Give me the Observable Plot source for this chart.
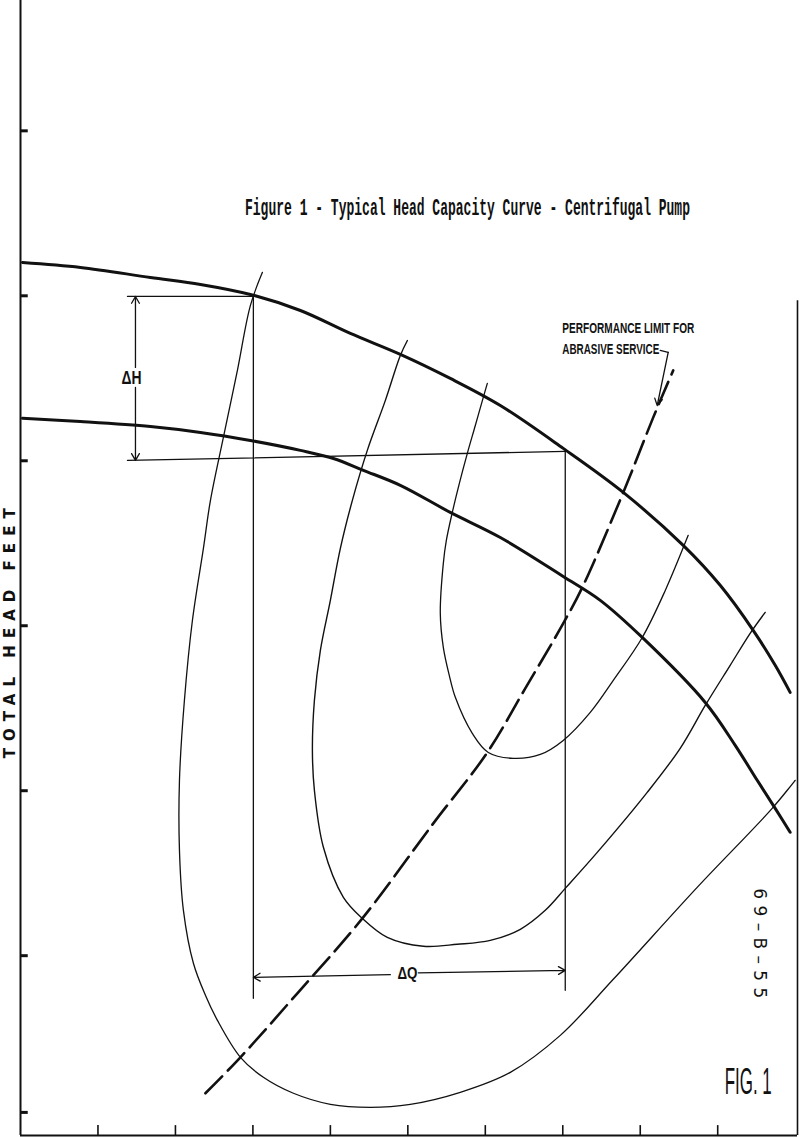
<!DOCTYPE html>
<html>
<head>
<meta charset="utf-8">
<script src="https://cdn.jsdelivr.net/npm/d3@7"></script>
<script src="https://cdn.jsdelivr.net/npm/@observablehq/plot@0.6"></script>
<style>
  html, body { margin: 0; padding: 0; background: #fff; }
  #chart svg { display: block; }
</style>
</head>
<body>
<div id="chart"></div>
<script>
// ---- scales / axes (capacity units along x, head units along y) ----
const xDomain = [0, 10.03];
const yDomain = [-0.09, 6.79];
const xTicks = [1, 2, 3, 4, 5, 6, 7, 8, 9];
const yTicks = [0.05, 1, 2, 3, 4, 5, 6];
const rightBorderTop = 4.97;

// ---- head-capacity curves (thick) ----
const upperHead = [[0.026,5.202],[0.774,5.172],[1.677,5.111],[2.323,5.069],[2.968,5.008],[3.613,4.911],[4.258,4.772],[4.903,4.645],[5.548,4.499],[6.194,4.335],[7.006,4.075],[7.781,3.808],[8.555,3.487],[9.032,3.245],[9.458,2.972],[9.742,2.760],[9.935,2.596]];
const lowerHead = [[0.026,4.257],[0.774,4.238],[1.677,4.208],[2.323,4.172],[2.968,4.123],[3.613,4.063],[4.039,4.014],[4.426,3.942],[4.903,3.851],[5.548,3.687],[6.194,3.535],[7.006,3.299],[7.484,3.154],[8.026,2.929],[8.839,2.535],[9.226,2.275],[9.510,2.063],[9.742,1.893],[9.935,1.748]];

// ---- efficiency loops (thin) ----
const outerLoop = [[3.123,5.142],[2.968,4.942],[2.800,4.548],[2.619,4.142],[2.452,3.760],[2.361,3.469],[2.219,3.032],[2.116,2.548],[2.052,2.063],[2.052,1.638],[2.103,1.275],[2.232,0.954],[2.387,0.760],[2.542,0.608],[2.839,0.384],[3.135,0.263],[3.523,0.166],[4.000,0.099],[4.516,0.081],[5.032,0.099],[5.677,0.172],[6.323,0.293],[6.968,0.517],[7.652,0.857],[8.735,1.414],[9.703,1.893],[10.0,2.063]];
const middleLoop = [[4.994,4.729],[4.903,4.638],[4.710,4.366],[4.477,4.063],[4.284,3.760],[4.129,3.469],[4.000,3.154],[3.871,2.851],[3.794,2.548],[3.768,2.245],[3.794,2.002],[3.910,1.657],[4.168,1.354],[4.413,1.226],[4.735,1.111],[5.200,1.057],[5.639,1.069],[6.065,1.093],[6.452,1.160],[6.774,1.275],[7.032,1.408],[7.445,1.626],[8.090,1.990],[8.516,2.257],[8.839,2.517],[9.161,2.760],[9.419,2.954],[9.613,3.081]];
const innerLoop = [[6.026,4.469],[5.974,4.384],[5.871,4.214],[5.768,4.045],[5.665,3.863],[5.574,3.687],[5.497,3.517],[5.458,3.378],[5.419,3.075],[5.458,2.869],[5.535,2.699],[5.613,2.566],[5.832,2.348],[6.039,2.232],[6.361,2.196],[6.710,2.220],[7.006,2.305],[7.355,2.475],[7.652,2.669],[8.026,2.929],[8.323,3.214],[8.619,3.548]];

// ---- performance limit for abrasive service (dashed) ----
const perfLimit = [[2.387,0.166],[2.839,0.384],[3.574,0.772],[4.413,1.226],[5.329,1.802],[6.026,2.232],[6.516,2.620],[7.006,3.014],[7.252,3.232],[7.781,3.808],[8.168,4.263],[8.426,4.548]];
const limitLeader = [[8.258,4.669],[8.361,4.657]];
const limitArrow = [{x1: 8.361, y1: 4.657, x2: 8.219, y2: 4.335}];

// ---- ΔH / ΔQ construction lines ----
const dimLines = [
  {id: "hTop",    pts: [[1.381,4.996],[3.006,4.996]]},
  {id: "vLeft",   pts: [[3.006,4.996],[3.006,0.742]]},
  {id: "hBottom", pts: [[1.381,4.002],[7.032,4.057]]},
  {id: "vRight",  pts: [[7.032,4.057],[7.032,0.790]]}
];
const dimArrows = [
  {x1: 1.484, y1: 4.566, x2: 1.484, y2: 4.996},
  {x1: 1.484, y1: 4.445, x2: 1.484, y2: 4.002},
  {x1: 4.774, y1: 0.885, x2: 3.006, y2: 0.869},
  {x1: 5.135, y1: 0.896, x2: 7.032, y2: 0.911}
];

// ---- texts ----
const labels = [
  {key: "title", text: "Figure 1 - Typical Head Capacity Curve - Centrifugal Pump", x: 5.77, y: 5.535, anchor: "middle", rotate: 0},
  {key: "perf1", text: "PERFORMANCE LIMIT FOR", x: 6.994, y: 4.802, anchor: "start", rotate: 0},
  {key: "perf2", text: "ABRASIVE SERVICE", x: 6.994, y: 4.675, anchor: "start", rotate: 0},
  {key: "dh", text: "ΔH", x: 1.432, y: 4.499, anchor: "middle", rotate: 0},
  {key: "dq", text: "ΔQ", x: 4.994, y: 0.893, anchor: "middle", rotate: 0},
  {key: "ylab", text: "TOTAL HEAD FEET", x: -0.13, y: 2.954, anchor: "middle", rotate: -90},
  {key: "code", text: "69–B–55", x: 9.535, y: 1.075, anchor: "middle", rotate: 90},
  {key: "fig", text: "FIG. 1", x: 9.394, y: 0.232, anchor: "middle", rotate: 0}
];
const labelStyle = {
  title: {font: "Liberation Mono", size: 13.2, weight: "bold", length: 445, adjust: "spacingAndGlyphs", stretch: 1.85},
  perf1: {font: "Liberation Sans", size: 10.5, weight: "bold", length: 132, adjust: "spacingAndGlyphs", stretch: 1.35},
  perf2: {font: "Liberation Sans", size: 10.5, weight: "bold", length: 97, adjust: "spacingAndGlyphs", stretch: 1.35},
  dh:    {font: "Liberation Sans", size: 14, weight: "bold", length: 20, adjust: "spacingAndGlyphs", stretch: 1.25},
  dq:    {font: "Liberation Sans", size: 14, weight: "bold", length: 20, adjust: "spacingAndGlyphs", stretch: 1.2},
  ylab:  {font: "DejaVu Sans", size: 15, weight: "bold", length: 250, adjust: "spacing", stretch: 1},
  code:  {font: "DejaVu Sans", size: 17, weight: "normal", length: 110, adjust: "spacing", stretch: 1},
  fig:   {font: "Liberation Sans", size: 17, weight: "normal", length: 47, adjust: "spacingAndGlyphs", stretch: 2.2}
};

const ink = "#111";
const line = (pts, opts) => Plot.line(pts, {x: d => d[0], y: d => d[1], stroke: ink, curve: "catmull-rom", ...opts});

const marks = [
  // frame lines
  Plot.ruleX([xDomain[0]], {y1: yDomain[0], y2: yDomain[1], stroke: ink, strokeWidth: 2}),
  Plot.ruleY([yDomain[0]], {x1: xDomain[0], x2: xDomain[1], stroke: ink, strokeWidth: 2.2}),
  Plot.ruleX([xDomain[1]], {y1: yDomain[0], y2: rightBorderTop, stroke: ink, strokeWidth: 1.6}),
  // tick marks pointing inward
  Plot.ruleX(xTicks, {y1: yDomain[0], y2: yDomain[0] + 0.06, stroke: ink, strokeWidth: 1.6}),
  Plot.ruleY(yTicks, {x1: xDomain[0], x2: xDomain[0] + 0.1, stroke: ink, strokeWidth: 3}),
  // efficiency loops
  line(outerLoop, {strokeWidth: 1.3}),
  line(middleLoop, {strokeWidth: 1.4}),
  line(innerLoop, {strokeWidth: 1.3}),
  // construction lines
  ...dimLines.map(d => line(d.pts, {curve: "linear", strokeWidth: 1.3})),
  Plot.arrow(dimArrows, {x1: "x1", y1: "y1", x2: "x2", y2: "y2", stroke: ink, strokeWidth: 1.3, headLength: 9}),
  // head curves
  line(upperHead, {strokeWidth: 3}),
  line(lowerHead, {strokeWidth: 3}),
  // performance limit
  line(perfLimit, {strokeWidth: 2.6, strokeDasharray: "24,8"}),
  line(limitLeader, {curve: "linear", strokeWidth: 1.3}),
  Plot.arrow(limitArrow, {x1: "x1", y1: "y1", x2: "x2", y2: "y2", stroke: ink, strokeWidth: 1.3, headLength: 9}),
  // texts
  ...labels.map(l => Plot.text([l], {
    x: "x", y: "y", text: "text", textAnchor: l.anchor, rotate: l.rotate,
    fill: ink, fontSize: labelStyle[l.key].size, fontWeight: labelStyle[l.key].weight,
    fontFamily: labelStyle[l.key].font, ariaDescription: "lbl-" + l.key
  }))
];

const chart = Plot.plot({
  width: 800,
  height: 1138,
  marginLeft: 20,
  marginRight: 3,
  marginTop: 0,
  marginBottom: 3,
  x: {domain: xDomain, axis: null},
  y: {domain: yDomain, axis: null},
  style: {background: "#fff", color: ink},
  marks
});

// fit the lettering to the widths and heights measured on the drawing
for (const l of labels) {
  const st = labelStyle[l.key];
  chart.querySelectorAll(`g[aria-description="lbl-${l.key}"] text`).forEach(t => {
    t.setAttribute("textLength", st.length);
    t.setAttribute("lengthAdjust", st.adjust);
    if (st.stretch !== 1) {
      const tr = t.getAttribute("transform");
      if (tr && tr.includes("translate")) {
        t.setAttribute("transform", `${tr} scale(1,${st.stretch})`);
      } else {
        const x = +t.getAttribute("x") || 0, y = +t.getAttribute("y") || 0;
        t.setAttribute("transform", `translate(${x},${y}) scale(1,${st.stretch}) translate(${-x},${-y})`);
      }
    }
  });
}
document.getElementById("chart").appendChild(chart);
</script>
</body>
</html>
